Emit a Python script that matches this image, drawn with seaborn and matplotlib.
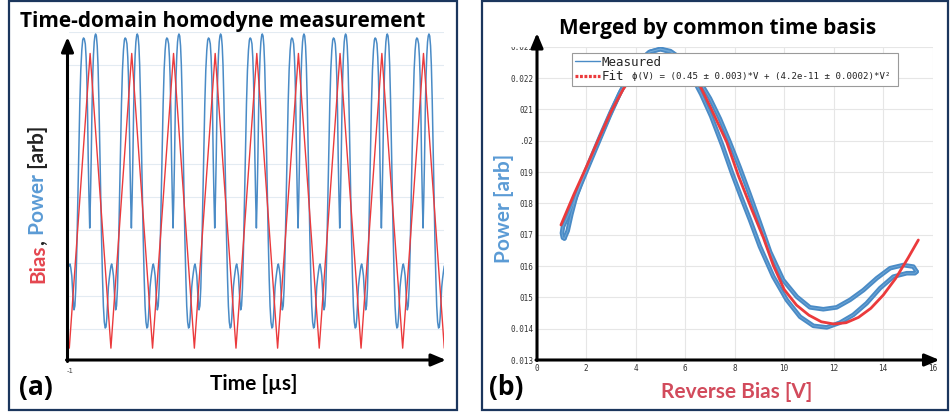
import numpy as np
import matplotlib
matplotlib.use("Agg")
import matplotlib.pyplot as plt
from matplotlib.patches import Rectangle, FancyArrowPatch
from matplotlib.lines import Line2D
from matplotlib.font_manager import FontProperties
import seaborn as sns

# ---------------------------------------------------------------------------
# (a) time-domain record: one bias-sweep period of detected power [arb]
cycle_phase = [0.000, 0.017, 0.036, 0.060, 0.084, 0.113, 0.134, 0.156, 0.180,
               0.204, 0.228, 0.252, 0.276, 0.300, 0.322, 0.341, 0.360, 0.384,
               0.403, 0.420, 0.437, 0.454, 0.472, 0.490, 0.508, 0.526, 0.544,
               0.562, 0.580, 0.598, 0.615, 0.631, 0.650, 0.670, 0.689, 0.710,
               0.732, 0.754, 0.775, 0.797, 0.818, 0.840, 0.862, 0.881, 0.900,
               0.919, 0.938, 0.958, 0.979]
cycle_power = [2.91, 2.97, 2.85, 2.61, 2.06, 1.58, 1.70, 2.24, 3.39,
               4.91, 6.48, 7.82, 8.85, 9.45, 9.76, 9.82, 9.79, 9.64,
               9.24, 8.64, 7.64, 6.18, 5.00, 4.06, 5.00, 6.18, 7.64,
               8.67, 9.30, 9.70, 9.88, 9.94, 9.88, 9.58, 9.00, 7.94,
               6.58, 5.06, 3.70, 2.55, 1.70, 1.21, 1.03, 1.06, 1.33,
               1.82, 2.27, 2.52, 2.73]
n_periods = 9
time_window = (-1.0, 1.0)  # µs

# (a) triangular bias drive, turning points
bias_time = [-1.000, -0.889, -0.778, -0.667, -0.556, -0.444, -0.333, -0.222,
             -0.111, 0.000, 0.111, 0.222, 0.333, 0.444, 0.556, 0.667, 0.778,
             0.889, 1.000]
bias_level = [0.42, 9.35, 0.42, 9.35, 0.42, 9.35, 0.42, 9.35, 0.42, 9.35,
              0.42, 9.35, 0.42, 9.35, 0.42, 9.35, 0.42, 9.35, 0.42]

# (b) power versus reverse bias, forward and return sweeps
up_bias = [1.12, 1.25, 1.40, 1.60, 1.85, 2.20, 2.60, 3.00, 3.40, 3.80, 4.20,
           4.60, 5.00, 5.40, 5.80, 6.20, 6.60, 7.00, 7.40, 7.80, 8.20, 8.60,
           9.00, 9.43, 9.96, 10.51, 11.04, 11.58, 12.12, 12.66, 13.20, 13.74,
           14.28, 14.81, 15.22, 15.35]
up_power = [0.01688, 0.01712, 0.01765, 0.01825, 0.01878, 0.01945, 0.02020,
            0.02092, 0.02158, 0.02213, 0.02258, 0.02284, 0.02293, 0.02286,
            0.02264, 0.02230, 0.02188, 0.02135, 0.02070, 0.01995, 0.01915,
            0.01830, 0.01742, 0.01645, 0.01555, 0.01502, 0.01468, 0.01462,
            0.01468, 0.01492, 0.01523, 0.01561, 0.01593, 0.01603, 0.01598,
            0.01582]
down_bias = [15.35, 15.28, 14.95, 14.41, 13.87, 13.33, 12.79, 12.25, 11.72,
             11.18, 10.64, 10.10, 9.56, 9.02, 8.62, 8.25, 7.90, 7.50, 7.05,
             6.65, 6.25, 5.85, 5.45, 5.00, 4.55, 4.15, 3.75, 3.35, 2.95, 2.55,
             2.15, 1.78, 1.48, 1.22, 1.06, 1.02, 1.06, 1.12]
down_power = [0.01582, 0.01577, 0.01577, 0.01566, 0.01529, 0.01481, 0.01444,
              0.01419, 0.01404, 0.01409, 0.01438, 0.01492, 0.01566, 0.01662,
              0.01747, 0.01822, 0.01895, 0.01985, 0.02078, 0.02148, 0.02208,
              0.02255, 0.02282, 0.02292, 0.02283, 0.02255, 0.02210, 0.02150,
              0.02080, 0.02005, 0.01930, 0.01860, 0.01800, 0.01752, 0.01725,
              0.01705, 0.01690, 0.01688]

# (b) fitted response
fit_bias = [0.98, 1.50, 2.00, 2.50, 3.00, 3.50, 4.00, 4.50, 5.10, 5.70, 6.20,
            6.60, 7.00, 7.68, 8.15, 8.69, 9.16, 9.56, 10.00, 10.50, 11.00,
            11.50, 12.00, 12.50, 13.00, 13.50, 14.00, 14.50, 15.00, 15.42]
fit_power = [0.01731, 0.01828, 0.01915, 0.02005, 0.02092, 0.02165, 0.02220,
             0.02255, 0.02268, 0.02255, 0.02220, 0.02175, 0.02110, 0.01995,
             0.01888, 0.01780, 0.01690, 0.01602, 0.01525, 0.01475, 0.01443,
             0.01422, 0.01415, 0.01419, 0.01436, 0.01465, 0.01507, 0.01560,
             0.01625, 0.01683]
fit_formula = "\u03d5(V) = (0.45 \u00b1 0.003)*V + (4.2e-11 \u00b1 0.0002)*V\u00b2"

bias_ticks = [0, 2, 4, 6, 8, 10, 12, 14, 16]
power_ticks = [0.013, 0.014, 0.015, 0.016, 0.017, 0.018, 0.019, 0.020,
               0.021, 0.022, 0.023]
# tick text as it shows beside the axis label (leading digits hidden)
power_tick_text = ["0.013", "0.014", "015", "016", "017", "018", "019",
                   ".02", "021", "0.022", "0.023"]

# ---------------------------------------------------------------------------
W, H = 950, 412
sns.set_theme(style="white")
FONT = ["Lato", "DejaVu Sans"]
HEAD = ["Open Sans", "DejaVu Sans"]
MONO = "DejaVu Sans Mono"
plt.rcParams["font.family"] = FONT

BLUE = "#4a8bc6"
RED = "#eb3a3c"
RED_TXT = "#e4464f"
RED_TXT_B = "#d24b5c"
BLUE_TXT = "#5b9bd5"
NAVY = "#1b365d"

fig = plt.figure(figsize=(W / 100, H / 100), dpi=100)


def fx(x):
    return x / W


def fy(y):
    return 1 - y / H


def box(x0, y0, x1, y1):
    return [fx(x0), fy(y1), (x1 - x0) / W, (y1 - y0) / H]


def arrow(x0, y0, x1, y1):
    fig.add_artist(FancyArrowPatch(
        (fx(x0), fy(y0)), (fx(x1), fy(y1)), transform=fig.transFigure,
        arrowstyle="-|>,head_length=0.62,head_width=0.26", mutation_scale=14,
        lw=2.2, color="black", shrinkA=0, shrinkB=0, zorder=6))


# panel frames
for x0, x1 in [(9, 456.5), (481.5, 947.8)]:
    fig.add_artist(Rectangle((fx(x0), fy(409.5)), (x1 - x0) / W, (409.5 - 1.2) / H,
                             transform=fig.transFigure, fill=False,
                             edgecolor=NAVY, lw=1.6, zorder=1))

# ---------------------------------------------------------------- panel (a)
axA = fig.add_axes(box(69.3, 32, 444.3, 362))
t0, t1 = time_window
period = (t1 - t0) / n_periods
phase = np.asarray(cycle_phase)
t_power = np.concatenate([t0 + (k + phase) * period for k in range(n_periods)] + [[t1]])
p_power = np.concatenate([cycle_power] * n_periods + [[cycle_power[0]]])

sns.lineplot(x=t_power, y=p_power, ax=axA, color=BLUE, lw=1.1,
             sort=False, estimator=None)
sns.lineplot(x=bias_time, y=bias_level, ax=axA, color=RED, lw=1.0,
             sort=False, estimator=None)
axA.set_xlim(t0, t1)
axA.set_ylim(0, 10)
axA.set_yticks(range(1, 11))
axA.set_xticks([])
axA.tick_params(left=False, labelleft=False, bottom=False, labelbottom=False)
axA.grid(axis="y", color="#e3ebf2", lw=0.8)
axA.set_facecolor("none")
for s in axA.spines.values():
    s.set_visible(False)
axA.set_xlabel("")
axA.set_ylabel("")

arrow(67.5, 361.5, 67.5, 37)
arrow(66.5, 360, 446, 360)
fig.text(fx(70), fy(371), "-1", fontsize=5, ha="center", va="center",
         color="#444444", family="DejaVu Sans")

fig.text(fx(20.5), fy(26.7), "Time-domain homodyne measurement", fontsize=15,
         weight="bold", ha="left", va="baseline", color="black", family=HEAD)
fig.text(fx(254), fy(389.5), "Time [\u00b5s]", fontsize=15, weight="bold",
         ha="center", va="baseline", color="black")
fig.text(fx(19.5), fy(394.5), "(a)", fontsize=19, weight="bold",
         ha="left", va="baseline", color="black", family=HEAD)

# multi-coloured vertical label
renderer = fig.canvas.get_renderer()
cur = fy(283.3)
for s, c in [("Bias", RED_TXT), (",", "#222222"), (" Power", BLUE_TXT), (" [arb]", "#222222")]:
    txt = fig.text(fx(44.3), cur, s, fontsize=15, weight="bold", color=c,
                   rotation=90, rotation_mode="anchor", ha="left", va="baseline")
    bb = txt.get_window_extent(renderer)
    cur += bb.height / H

# ---------------------------------------------------------------- panel (b)
axB = fig.add_axes(box(536.7, 46.7, 932.7, 360))
for xs, ys in [(up_bias, up_power), (down_bias, down_power)]:
    sns.lineplot(x=xs, y=ys, ax=axB, color=BLUE, lw=3.3, sort=False,
                 estimator=None)
for xs, ys in [(up_bias, up_power), (down_bias, down_power)]:
    sns.lineplot(x=xs, y=ys, ax=axB, color="#7fb2dc", lw=0.6, alpha=0.7,
                 sort=False, estimator=None)
sns.lineplot(x=fit_bias, y=fit_power, ax=axB, color=RED, lw=2.0, sort=False,
             estimator=None)
axB.set_xlim(0, 16)
axB.set_ylim(0.013, 0.023)
axB.set_xticks(bias_ticks)
axB.set_xticklabels([f"{v:g}" for v in bias_ticks])
axB.set_yticks(power_ticks)
axB.set_yticklabels(power_tick_text)
axB.tick_params(axis="x", length=0, labelsize=5.5, labelcolor="#333333", pad=3.2)
axB.tick_params(axis="y", length=0, labelsize=5.5, labelcolor="#333333", pad=2.4)
for lab in axB.get_xticklabels() + axB.get_yticklabels():
    lab.set_fontfamily(MONO)
axB.grid(True, color="#e6e6e6", lw=0.8)
axB.set_facecolor("none")
for s in axB.spines.values():
    s.set_visible(False)
axB.set_xlabel("")
axB.set_ylabel("")

handles = [Line2D([], [], color=BLUE, lw=1.0),
           Line2D([], [], color=RED, lw=2.3, ls=(0, (0.9, 0.5)))]
leg = axB.legend(handles, ["Measured", "Fit"], loc="upper left",
                 bbox_to_anchor=box(572, 53, 898, 86), bbox_transform=fig.transFigure,
                 mode="expand", borderaxespad=0, prop=FontProperties(family=MONO, size=9),
                 handlelength=2.0, handletextpad=0.2, borderpad=0.2,
                 labelspacing=0.15, fancybox=False, framealpha=1,
                 edgecolor="#9a9a9a")
leg.get_frame().set_linewidth(0.8)
fig.canvas.draw()
fit_bb = leg.get_texts()[1].get_window_extent(fig.canvas.get_renderer())
fig.text((fit_bb.x1 + 8) / W, (fit_bb.y0 + fit_bb.y1) / 2 / H, fit_formula,
         fontsize=6.6, family=MONO, ha="left", va="center", color="#222222",
         zorder=5)

# white strip that trims the top tick text
fig.add_artist(Rectangle((fx(498), fy(47.2)), (535 - 498) / W, (47.2 - 36) / H,
                         transform=fig.transFigure, facecolor="white",
                         edgecolor="none", zorder=2))

arrow(537, 360.5, 537, 33)
arrow(536, 360, 939.5, 360)

fig.text(fx(718), fy(34.3), "Merged by common time basis", fontsize=15,
         weight="bold", ha="center", va="baseline", color="black", zorder=4,
         family=HEAD)
fig.text(fx(737), fy(397.8), "Reverse Bias [V]", fontsize=15, weight="bold",
         ha="center", va="baseline", color=RED_TXT_B, zorder=4)
fig.text(fx(510), fy(208.3), "Power [arb]", fontsize=15, weight="bold",
         ha="center", va="baseline", color=BLUE_TXT, rotation=90,
         rotation_mode="anchor", zorder=4)
fig.text(fx(489.5), fy(395), "(b)", fontsize=19, weight="bold",
         ha="left", va="baseline", color="black", zorder=4, family=HEAD)

fig.savefig("out.png", dpi=100)
